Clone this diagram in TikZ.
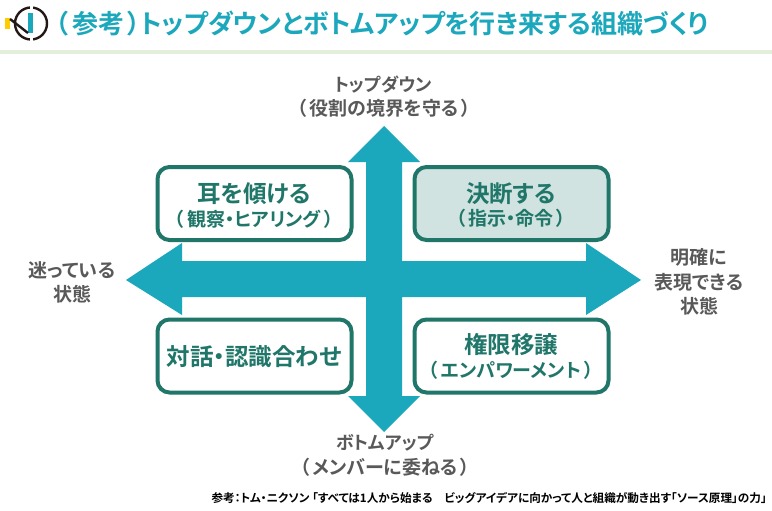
\documentclass[tikz,border=0pt]{standalone}
\usepackage{fontspec}
\setmainfont[RawFeature=+palt]{Noto Sans CJK JP Bold}
\definecolor{teal1}{HTML}{1BA7BC}
\definecolor{green1}{HTML}{1F7669}
\definecolor{fill1}{HTML}{D0E3E0}
\definecolor{band}{HTML}{E2EFDA}
\definecolor{gray1}{HTML}{595959}
\definecolor{logo}{HTML}{231815}
\definecolor{yel}{HTML}{FFCC00}
\newcommand{\lpar}{（\hspace{3pt}}
\newcommand{\rpar}{\hspace{3pt}）}
\tikzset{
 qbox/.style={draw=green1,line width=4pt,rounded corners=12pt,minimum width=194pt,minimum height=73pt,inner sep=0pt,fill=white,anchor=center},
 big/.style={text=green1,font=\fontsize{23.5}{26}\selectfont,inner sep=0pt},
 sub/.style={text=green1,font=\fontsize{19}{22}\selectfont,inner sep=0pt},
 lab/.style={text=gray1,font=\fontsize{19}{22}\selectfont,inner sep=0pt},
 labk/.style={text=gray1,font=\fontsize{18}{22}\selectfont,inner sep=0pt},
}
\begin{document}
\begin{tikzpicture}[x=1pt,y=-1pt]
\useasboundingbox (0,0) rectangle (772,511);
\fill[white] (0,0) rectangle (772,511);
\fill[band] (0,50) rectangle (772,54);
% logo
\fill[yel] (5,18) rectangle (10,29);
\draw[logo,line width=2.4pt] (31,23.5) circle (16);
\fill[white] (29.5,5) rectangle (32.5,9);
\fill[white] (29.5,38) rectangle (32.5,42);
\fill[teal1] (28,13) rectangle (33,33);
\draw[logo,line width=2.4pt] (10,19) -- (28,33);
\node[text=teal1,font=\fontsize{26}{28}\selectfont,anchor=west,inner sep=0pt] (title) at (55,24) {（\hspace{4pt}参考\hspace{3pt}）トップダウンとボトムアップを行き来する組織づくり};
% arrows
\fill[teal1] (384,126) -- (420,162) -- (402,162) -- (402,261) -- (586,261) -- (586,243) -- (641,280) -- (586,315) -- (586,297) -- (402,297) -- (402,396) -- (420,396) -- (384,432) -- (348,396) -- (366,396) -- (366,297) -- (182,297) -- (182,315) -- (126,280) -- (182,243) -- (182,261) -- (366,261) -- (366,162) -- (348,162) -- cycle;
% boxes
\node[qbox] (tl) at (254.5,203.5) {};
\node[qbox,fill=fill1] (tr) at (511.5,203.5) {};
\node[qbox] (bl) at (254.5,356) {};
\node[qbox] (br) at (511.5,356) {};
\node[big] (tl1) at (254,194) {耳を傾ける};
\node[sub] (tl2) at (254,219) {\lpar 観察・ヒアリング\rpar};
\node[big] (tr1) at (511,194) {決断する};
\node[sub] (tr2) at (511,218) {\lpar 指示・命令\rpar};
\node[big] (bl1) at (254,357) {対話・認識合わせ};
\node[big] (br1) at (511,345) {権限移譲};
\node[sub] (br2) at (511,370) {\lpar エンパワーメント\rpar};
% labels
\node[labk] (n1) at (383,85) {トップダウン};
\node[lab] (n2) at (384,108) {\lpar 役割の境界を守る\rpar};
\node[labk] (s1) at (385,443) {ボトムアップ};
\node[lab] (s2) at (385,467) {\lpar メンバーに委ねる\rpar};
\node[lab] (w1) at (72,270) {迷っている};
\node[lab] (w2) at (72,294) {状態};
\node[lab] (e1) at (699,257) {明確に};
\node[lab] (e2) at (699,282) {表現できる};
\node[lab] (e3) at (699,306) {状態};
\node[text=black,font=\fontsize{11.6}{13}\selectfont,anchor=east,inner sep=0pt] (ref) at (767,498) {参考：トム・ニクソン 「すべては1人から始まる　ビッグアイデアに向かって人と組織が動き出す「ソース原理」の力」};
\end{tikzpicture}
\end{document}
